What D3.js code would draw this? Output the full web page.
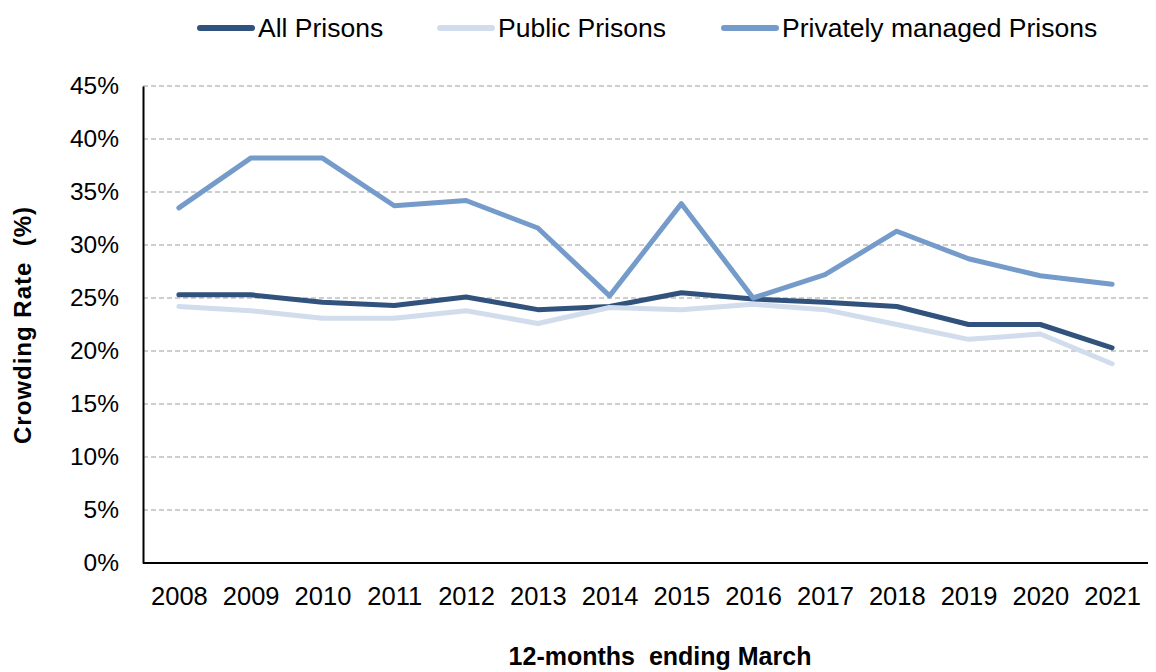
<!DOCTYPE html>
<html lang="en">
<head>
<meta charset="UTF-8" />
<title>Crowding Rate</title>
<style>
  body { margin: 0; background: #fff; }
  text { font-family: "Liberation Sans", Arial, sans-serif; fill: #000; }
</style>
</head>
<body>
<svg id="chart" width="1156" height="672"></svg>
<script src="https://cdn.jsdelivr.net/npm/d3@7"></script>
<script>
  const years = ['2008', '2009', '2010', '2011', '2012', '2013', '2014', '2015', '2016', '2017', '2018', '2019', '2020', '2021'];
  const allPrisons = [25.3, 25.3, 24.6, 24.3, 25.1, 23.9, 24.2, 25.5, 24.9, 24.6, 24.2, 22.5, 22.5, 20.3];
  const publicPrisons = [24.2, 23.8, 23.1, 23.1, 23.8, 22.6, 24.1, 23.9, 24.4, 23.9, 22.5, 21.1, 21.6, 18.8];
  const privatePrisons = [33.5, 38.2, 38.2, 33.7, 34.2, 31.6, 25.2, 33.9, 25.0, 27.2, 31.3, 28.7, 27.1, 26.3];
  const yTicks = [0, 5, 10, 15, 20, 25, 30, 35, 40, 45];

  const series = [
    { name: 'All Prisons', values: allPrisons, color: '#31527c' },
    { name: 'Public Prisons', values: publicPrisons, color: '#d1ddec' },
    { name: 'Privately managed Prisons', values: privatePrisons, color: '#759bca' }
  ];

  const plot = { left: 143, right: 1148, top: 86, bottom: 563 };
  const svg = d3.select('#chart');

  const x = d3.scalePoint().domain(years).range([plot.left, plot.right]).padding(0.5);
  const y = d3.scaleLinear().domain([0, 45]).range([plot.bottom, plot.top]);

  // gridlines
  svg.append('g')
    .selectAll('line')
    .data(yTicks.filter(d => d > 0))
    .enter().append('line')
    .attr('x1', plot.left).attr('x2', plot.right)
    .attr('y1', d => y(d)).attr('y2', d => y(d))
    .style('stroke', '#bfbfbf')
    .style('stroke-width', 1.5)
    .style('stroke-dasharray', '5,3');

  // y axis
  const yAxis = svg.append('g')
    .attr('transform', `translate(${plot.left},0)`)
    .call(d3.axisLeft(y).tickValues(yTicks).tickSize(0).tickPadding(24).tickFormat(d => d + '%'));
  yAxis.select('.domain').style('stroke', '#000').style('stroke-width', 2);
  yAxis.selectAll('text').style('font-size', '24.5px')
    .style('font-family', '"Liberation Sans", Arial, sans-serif');

  // x axis
  const xAxis = svg.append('g')
    .attr('transform', `translate(0,${plot.bottom})`)
    .call(d3.axisBottom(x).tickSize(0).tickPadding(24));
  xAxis.select('.domain').attr('d', `M${plot.left},0H${plot.right}`).style('stroke', '#000').style('stroke-width', 2);
  xAxis.selectAll('text').style('font-size', '25.5px')
    .style('font-family', '"Liberation Sans", Arial, sans-serif');

  // lines
  const line = d3.line()
    .x((d, i) => x(years[i]))
    .y(d => y(d));

  svg.append('g')
    .selectAll('path')
    .data(series)
    .enter().append('path')
    .attr('d', d => line(d.values))
    .style('fill', 'none')
    .style('stroke', d => d.color)
    .style('stroke-width', 5)
    .style('stroke-linecap', 'round')
    .style('stroke-linejoin', 'round');

  // axis titles
  svg.append('text')
    .attr('x', 660).attr('y', 665)
    .attr('text-anchor', 'middle')
    .style('font-size', '25px').style('font-weight', 'bold')
    .style('white-space', 'pre')
    .text('12-months  ending March');

  svg.append('text')
    .attr('transform', 'translate(31,325) rotate(-90)')
    .attr('text-anchor', 'middle')
    .style('font-size', '24px').style('font-weight', 'bold')
    .style('letter-spacing', '1px')
    .style('white-space', 'pre')
    .text('Crowding Rate  (%)');

  // legend
  const legendX = [200, 440, 724];
  const legend = svg.append('g')
    .selectAll('g')
    .data(series)
    .enter().append('g')
    .attr('transform', (d, i) => `translate(${legendX[i]},28)`);
  legend.append('line')
    .attr('x1', 0).attr('x2', 52)
    .style('stroke', d => d.color)
    .style('stroke-width', 6)
    .style('stroke-linecap', 'round');
  legend.append('text')
    .attr('x', 58).attr('dy', '0.35em')
    .style('font-size', '26.5px')
    .text(d => d.name);
</script>
</body>
</html>
